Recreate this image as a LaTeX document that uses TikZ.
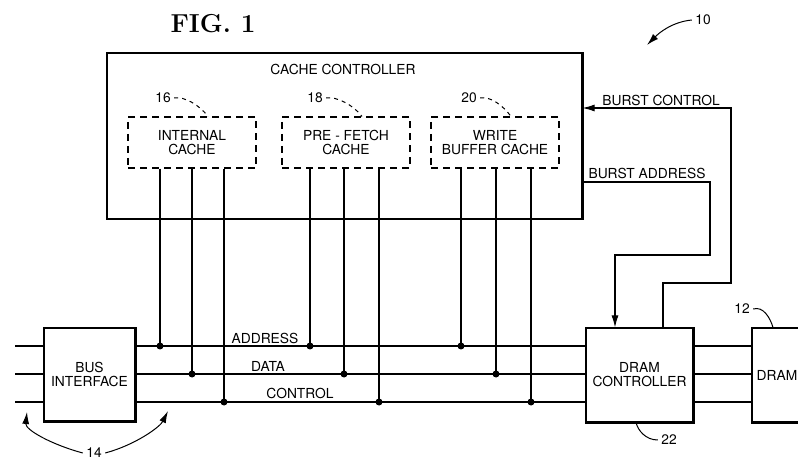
\documentclass[tikz,border=0pt]{standalone}
\usepackage{fontspec}
\setsansfont{TeX Gyre Heros}
\usetikzlibrary{arrows.meta,positioning}

\begin{document}
\begin{tikzpicture}[x=1pt,y=-1pt,
  every node/.style={font=\sffamily\fontsize{13.8}{14}\selectfont},
  block/.style={draw, line width=1.1pt, align=center, inner sep=0pt},
  cachebox/.style={draw, dash pattern=on 7pt off 5pt, line width=1.1pt,
    minimum width=128pt, minimum height=51pt, align=center, inner sep=0pt},
  rail/.style={line width=1.1pt},
  shadeedge/.style={line width=2.6pt},
  lead/.style={line width=1pt},
  tip/.style={-{Latex[length=12pt,width=7pt]}}]
\useasboundingbox (0,0) rectangle (798,462);

% title
\node[font=\rmfamily\bfseries\fontsize{26}{28}\selectfont] (fig) at (213,24) {FIG. 1};

% cache controller and its caches
\node[block, minimum width=475pt, minimum height=166pt] (cc) at (344.5,136) {};
\node (cctitle) at (343,69) {CACHE CONTROLLER};
\node[cachebox] (ic) at (192,142.5) {INTERNAL\\CACHE};
\node[cachebox] (pf) at (346,142.5) {PRE - FETCH\\CACHE};
\node[cachebox] (wb) at (495,142.5) {WRITE\\BUFFER CACHE};
\node (n16) at (163,98) {16};
\node (n18) at (315,98) {18};
\node (n20) at (469,98) {20};
\foreach \n/\c in {n16/ic,n18/pf,n20/wb}
  \draw[lead, dash pattern=on 4pt off 4pt] (\n.east) .. controls +(10,-2) and +(-8,-11) .. ([xshift=16pt]\c.north);

% blocks on the bus
\node[block, minimum width=91pt, minimum height=93pt] (bus) at (89.5,374.5) {BUS\\INTERFACE};
\node[block, minimum width=107pt, minimum height=94pt] (dctl) at (639.5,375) {DRAM\\CONTROLLER};
\node[block, minimum width=50pt, minimum height=94pt] (dram) at (777,375) {DRAM};
\foreach \b in {bus,dctl,dram}
  \draw[shadeedge] (\b.north east) -- (\b.south east) -- (\b.south west);
\draw[shadeedge] (cc.north east) -- (cc.south east);

% address, data and control lines
\foreach \y/\r in {346/addr,374/data,402/ctrl} {
  \coordinate (\r) at (15,\y);
  \draw[rail] (\r) -- (bus.west |- \r);
  \draw[rail] (bus.east |- \r) -- (dctl.west |- \r);
  \draw[rail] (dctl.east |- \r) -- (dram.west |- \r);
}
\node (laddr) at (265,338) {ADDRESS};
\node (ldata) at (268,366) {DATA};
\node (lctrl) at (300,393) {CONTROL};
\foreach \x/\c/\r [count=\i] in {160/ic/addr,192/ic/data,224/ic/ctrl,
    310/pf/addr,344/pf/data,379/pf/ctrl,461/wb/addr,496/wb/data,531/wb/ctrl} {
  \coordinate (t\i) at (\x,0 |- \r);
  \draw[rail] (\c.south -| t\i) -- (t\i);
  \fill (t\i) circle[radius=3.5pt];
}

% burst lines
\draw[rail, tip] (dctl.north -| 663,0) |- (731,283) -- (731,108) -- (cc.east |- 0,108);
\node (lbc) at (661,100) {BURST CONTROL};
\draw[rail, tip] (cc.east |- 0,182) -- (710,182) |- (615,255) -- (dctl.north -| 615,0);
\node (lba) at (647,173) {BURST ADDRESS};

% reference numerals
\node (n10) at (703,20) {10};
\draw[lead, tip] (n10.west) .. controls +(-20,2) and +(12,-12) .. (647,45);
\node (n12) at (742,309) {12};
\draw[lead] (n12.east) .. controls +(10,-3) and +(-3,-10) .. ([xshift=-4pt]dram.north);
\node (n22) at (669,440) {22};
\draw[lead] (n22.west) .. controls +(-12,0) and +(2,8) .. ([xshift=-3.5pt]dctl.south);
\node (n14) at (94,453) {14};
\draw[lead, tip] (n14.west) .. controls +(-30,-8) and +(-2,18) .. (27,412);
\draw[lead, tip] (n14.east) .. controls +(30,-8) and +(-8,16) .. (168,411);
\end{tikzpicture}
\end{document}
